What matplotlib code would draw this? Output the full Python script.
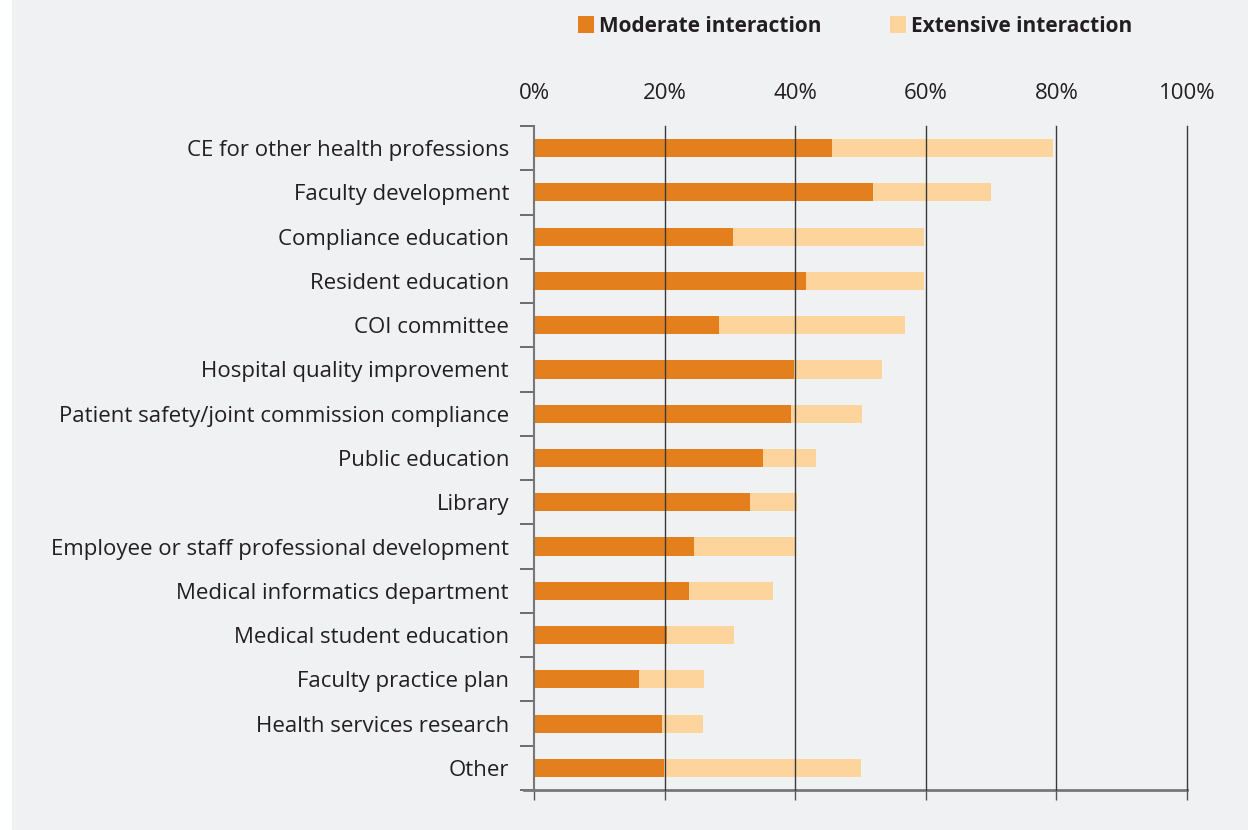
import numpy as np
import matplotlib.pyplot as plt
from matplotlib.ticker import FixedLocator, FuncFormatter
from matplotlib.patches import Rectangle

plt.rcParams['font.family'] = ['Open Sans', 'DejaVu Sans']

# share of respondents, top to bottom
categories = ['CE for other health professions', 'Faculty development', 'Compliance education',
              'Resident education', 'COI committee', 'Hospital quality improvement',
              'Patient safety/joint commission compliance', 'Public education', 'Library',
              'Employee or staff professional development', 'Medical informatics department',
              'Medical student education', 'Faculty practice plan', 'Health services research',
              'Other']
moderate = [45.6, 51.9, 30.5, 41.7, 28.3, 39.8, 39.4, 35.1, 33.1, 24.5, 23.7, 20.4, 16.1, 19.6, 19.9]
extensive = [33.9, 18.1, 29.2, 18.0, 28.5, 13.5, 10.8, 8.1, 7.1, 15.5, 12.9, 10.2, 9.9, 6.3, 30.1]
xticks = [0, 20, 40, 60, 80, 100]

bg = '#f0f1f3'
orange = '#e37f1c'
light = '#fdd49c'
ink = '#231f20'

fig = plt.figure(figsize=(12.48, 8.30), dpi=100, facecolor=bg)
fig.patches.append(Rectangle((0, 0), 12 / 1248, 1, transform=fig.transFigure,
                             facecolor='white', edgecolor='none', zorder=0))
ax = fig.add_axes([534 / 1248, 40 / 830, 653 / 1248, 664 / 830])
ax.set_facecolor(bg)

y = np.arange(len(categories))
ax.barh(y, moderate, height=0.41, color=orange, zorder=2, label='Moderate interaction')
ax.barh(y, extensive, left=moderate, height=0.41, color=light, zorder=2,
        label='Extensive interaction')

ax.set_xlim(0, 100)
ax.set_ylim(len(categories) - 0.5, -0.5)

# vertical gridlines sit on top of the bars
for v in xticks[1:]:
    ax.axvline(v, color='#3a3a3a', lw=1.0, zorder=3, clip_on=False)

ax.xaxis.set_major_locator(FixedLocator(xticks))
ax.xaxis.set_major_formatter(FuncFormatter(lambda v, p: f'{v:.0f}%'))
ax.tick_params(axis='x', top=False, bottom=True, labeltop=True, labelbottom=False,
               direction='out', length=7, width=1, color='#555555', pad=8.5,
               labelsize=16, labelcolor=ink)

ax.set_yticks(y)
ax.set_yticklabels(categories)
ax.set_yticks(np.arange(len(categories) + 1) - 0.5, minor=True)
ax.tick_params(axis='y', which='major', length=0, pad=18, labelsize=16, labelcolor=ink)
ax.tick_params(axis='y', which='minor', length=10, width=1.2, color='#555555')

for s in ['top', 'right']:
    ax.spines[s].set_visible(False)
ax.spines['left'].set_color('#777777')
ax.spines['left'].set_linewidth(1.5)
ax.spines['bottom'].set_color('#777777')
ax.spines['bottom'].set_linewidth(2)
ax.spines['bottom'].set_bounds(-1.5, 100)

ax.legend(loc='center', bbox_to_anchor=(855 / 1248, 1 - 26 / 830),
          bbox_transform=fig.transFigure, ncol=2, frameon=False,
          handlelength=0.77, handleheight=0.87, handletextpad=0.25, columnspacing=3.3,
          borderpad=0, prop={'weight': 'bold', 'size': 15})
for t in ax.get_legend().get_texts():
    t.set_color(ink)

fig.savefig('out.png', dpi=100, facecolor=bg)
